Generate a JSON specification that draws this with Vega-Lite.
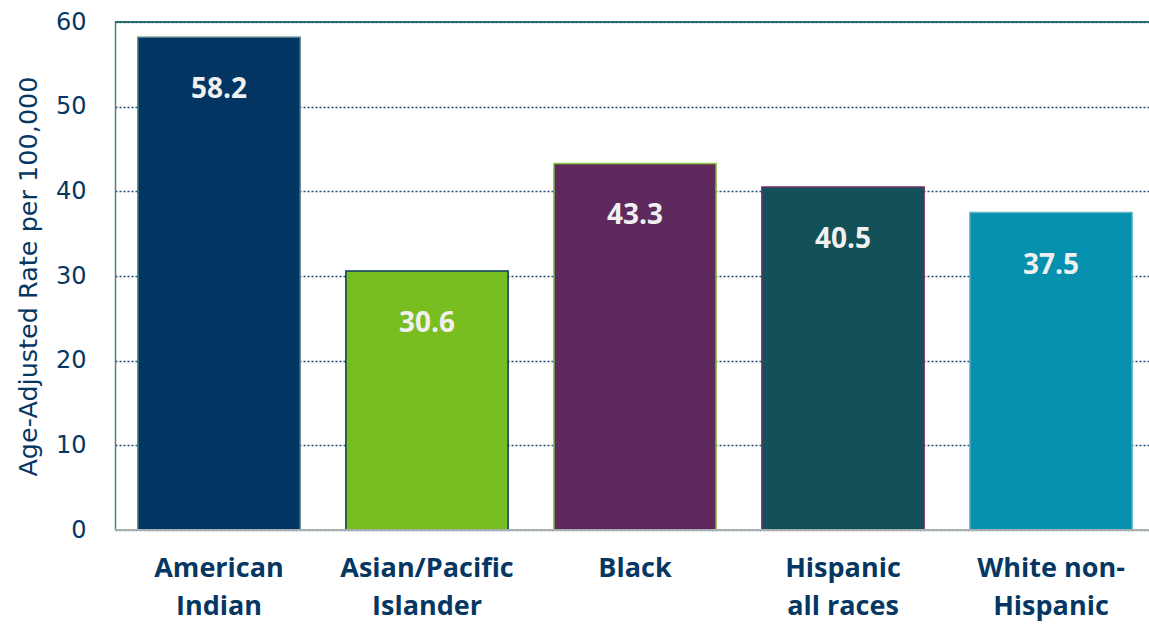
{
  "$schema": "https://vega.github.io/schema/vega-lite/v6.json",
  "autosize": "none",
  "width": 1040,
  "height": 508,
  "padding": {"left": 115, "top": 22, "right": 0, "bottom": 96},
  "background": "white",
  "config": {"view": {"stroke": null}},
  "data": {
    "values": [
      {"group": "American Indian", "rate": 58.2},
      {"group": "Asian/Pacific Islander", "rate": 30.6},
      {"group": "Black", "rate": 43.3},
      {"group": "Hispanic all races", "rate": 40.5},
      {"group": "White non-Hispanic", "rate": 37.5}
    ]
  },
  "encoding": {
    "x": {
      "field": "group",
      "type": "nominal",
      "sort": null,
      "scale": {"paddingInner": 0.22, "paddingOuter": 0.11},
      "axis": {
        "title": null,
        "labelAngle": 0,
        "ticks": false,
        "domain": false,
        "labelPadding": 25,
        "labelFont": "Open Sans",
        "labelFontWeight": "bold",
        "labelFontSize": 27,
        "labelColor": "#063763",
        "labelLineHeight": 38,
        "labelBaseline": "top",
        "labelExpr": "datum.value == 'American Indian' ? ['American','Indian'] : datum.value == 'Asian/Pacific Islander' ? ['Asian/Pacific','Islander'] : datum.value == 'Hispanic all races' ? ['Hispanic','all races'] : datum.value == 'White non-Hispanic' ? ['White non-','Hispanic'] : datum.value"
      }
    }
  },
  "layer": [
    {
      "mark": {"type": "bar", "strokeWidth": 1.5},
      "encoding": {
        "y": {
          "field": "rate",
          "type": "quantitative",
          "scale": {"domain": [0, 60], "nice": false},
          "axis": {
            "title": "Age-Adjusted Rate per 100,000",
            "titleFont": "DejaVu Sans",
            "titleFontWeight": "normal",
            "titleFontSize": 25.5,
            "titleColor": "#063763",
            "titlePadding": 14,
            "values": [0, 10, 20, 30, 40, 50, 60],
            "labelFont": "DejaVu Sans",
            "labelFontSize": 24,
            "labelColor": "#063763",
            "labelPadding": 29,
            "ticks": false,
            "domainColor": "#4f8088",
            "domainWidth": 1.5,
            "grid": true,
            "gridColor": "#1d4a74",
            "gridDash": [2, 2],
            "gridWidth": 1.5
          }
        },
        "color": {
          "field": "group",
          "type": "nominal",
          "sort": null,
          "legend": null,
          "scale": {
            "domain": ["American Indian", "Asian/Pacific Islander", "Black", "Hispanic all races", "White non-Hispanic"],
            "range": ["#023561", "#79BE21", "#5E2A5E", "#115157", "#0591AD"]
          }
        },
        "stroke": {
          "field": "group",
          "type": "nominal",
          "sort": null,
          "legend": null,
          "scale": {
            "domain": ["American Indian", "Asian/Pacific Islander", "Black", "Hispanic all races", "White non-Hispanic"],
            "range": ["#4f7f86", "#0b3a5e", "#8cc63f", "#6c2f6c", "#5fb3c5"]
          }
        }
      }
    },
    {
      "mark": {"type": "text", "dy": 53, "baseline": "middle", "font": "Open Sans", "fontWeight": "bold", "fontSize": 28, "color": "#f0f0f0"},
      "encoding": {
        "y": {"field": "rate", "type": "quantitative"},
        "text": {"field": "rate", "type": "quantitative", "format": ".1f"}
      }
    },
    {
      "data": {"values": [{"v": 60}]},
      "mark": {"type": "rule", "color": "#2c6b70", "strokeWidth": 2},
      "encoding": {"y": {"field": "v", "type": "quantitative"}, "x": null}
    },
    {
      "data": {"values": [{"v": 0}]},
      "mark": {"type": "rule", "color": "#a6aeb0", "strokeWidth": 2},
      "encoding": {"y": {"field": "v", "type": "quantitative"}, "x": null}
    }
  ]
}
